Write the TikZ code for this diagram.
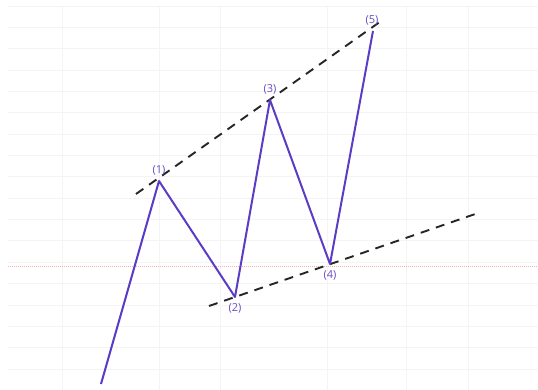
\documentclass[tikz,border=0pt]{standalone}
\usepackage{fontspec}
\setsansfont{Open Sans}
\usepackage{tikz}
\usetikzlibrary{positioning}
\definecolor{wavepurple}{HTML}{5B3CC4}
\definecolor{labelpurple}{HTML}{6A4CC6}
\definecolor{gridgrey}{HTML}{F4F4F4}
\definecolor{levelred}{HTML}{F5B0B0}

\begin{document}
\begin{tikzpicture}[x=1pt,y=-1pt,
  gridline/.style={gridgrey,line width=0.8pt},
  level/.style={levelred,line width=0.9pt,dash pattern=on 1pt off 1pt},
  wave/.style={wavepurple,line width=2pt,line join=round},
  trend/.style={black!85,line width=1.9pt,dash pattern=on 9pt off 7pt},
  lbl/.style={labelpurple,font=\sffamily\fontsize{11}{13}\selectfont,inner sep=1pt}]
\useasboundingbox (0,0) rectangle (538,390);
\fill[white] (0,0) rectangle (538,390);
\foreach \i in {0,...,17} \draw[gridline] (8,6+21.35*\i) -- (538,6+21.35*\i);
\foreach \x in {62,159,220,327,406,468} \draw[gridline] (\x,6) -- (\x,390);
\coordinate (lvlA) at (8,266);
\coordinate (lvlB) at (538,266);
\draw[level] (lvlA) -- (lvlB);
\coordinate (w0) at (101,384);
\coordinate (w1) at (159,181);
\coordinate (w2) at (235,297);
\coordinate (w3) at (270,100);
\coordinate (w4) at (330,264);
\coordinate (w5) at (373,31);
\coordinate (upA) at (136,194);
\coordinate (upB) at (384,19);
\coordinate (loA) at (209,306);
\coordinate (loB) at (481,212);
\draw[trend] (upA) -- (upB);
\draw[trend] (loA) -- (loB);
\draw[wave] (w0) -- (w1) -- (w2) -- (w3) -- (w4) -- (w5);
\node[lbl,above=5pt of w1] (l1) {(1)};
\node[lbl,below=5pt of w2] (l2) {(2)};
\node[lbl,above=5pt of w3] (l3) {(3)};
\node[lbl,below=5pt of w4] (l4) {(4)};
\node[lbl,above=5pt of w5,xshift=-1pt] (l5) {(5)};
\end{tikzpicture}
\end{document}
